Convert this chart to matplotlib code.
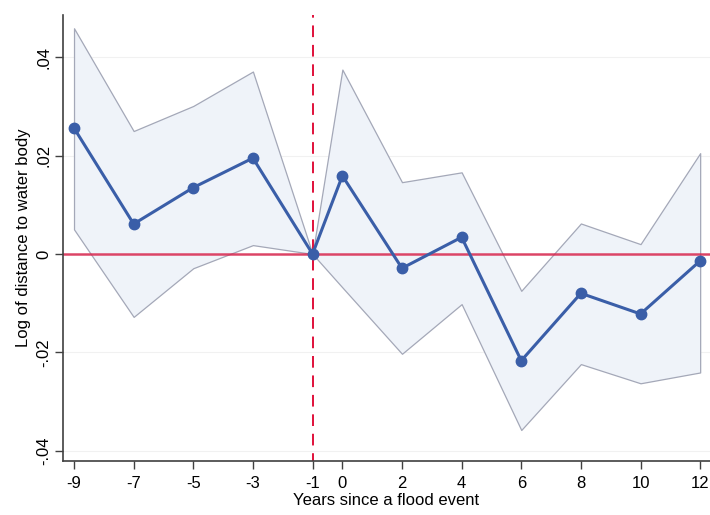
import matplotlib
matplotlib.use("Agg")
import matplotlib.pyplot as plt

plt.rcParams['font.family'] = ['Liberation Sans', 'DejaVu Sans']

# event-study estimates
years = [-9, -7, -5, -3, -1, 0, 2, 4, 6, 8, 10, 12]
coef = [0.0256, 0.0061, 0.0135, 0.0195, 0.0, 0.0159, -0.0029, 0.0034, -0.0217, -0.0080, -0.0122, -0.0014]
ci_hi = [0.0459, 0.0250, 0.0301, 0.0371, 0.0, 0.0375, 0.0146, 0.0166, -0.0075, 0.0062, 0.0020, 0.0205]
ci_lo = [0.0050, -0.0128, -0.0029, 0.0018, 0.0, -0.0068, -0.0203, -0.0102, -0.0358, -0.0224, -0.0263, -0.0241]

ytick_vals = [-0.04, -0.02, 0, 0.02, 0.04]
ytick_labels = ['-.04', '-.02', '0', '.02', '.04']

fig = plt.figure(figsize=(7.1, 5.15), dpi=100)
ax = fig.add_axes([0.0883, 0.1049, 0.9117, 0.8660])

# faint grid like the stata scheme
for v in ytick_vals:
    ax.axhline(v, color='#f1f1f1', lw=0.8, zorder=0)

ax.fill_between(years, ci_lo, ci_hi, facecolor='#eff3f9', edgecolor='#a4a8b8', lw=0.9, zorder=1)
ax.axhline(0, color='#d8264e', lw=1.8, alpha=0.85, zorder=2)
ax.axvline(-1, color='#e0103a', lw=1.4, ls=(2, (6, 4)), zorder=2)
ax.plot(years, coef, color='#3a5ea8', lw=2.2, marker='o', ms=7.5, zorder=3)

ax.set_xlim(-9.38, 12.33)
ax.set_ylim(-0.0421, 0.0486)
ax.set_xticks(years)
ax.set_xticklabels([str(y) for y in years], fontsize=12)
ax.set_yticks(ytick_vals)
ax.set_yticklabels(ytick_labels, fontsize=12, rotation=90, va='center')
ax.tick_params(axis='x', length=6, width=1, color='#404040', pad=5)
ax.tick_params(axis='y', length=6, width=1, color='#404040', pad=2)

for s in ['top', 'right']:
    ax.spines[s].set_visible(False)
for s in ['left', 'bottom']:
    ax.spines[s].set_color('#404040')
    ax.spines[s].set_linewidth(1.2)

ax.set_xlabel('Years since a flood event', fontsize=12, labelpad=1)
ax.set_ylabel('Log of distance to water body', fontsize=12, labelpad=4)

fig.savefig('out.png', dpi=100)
